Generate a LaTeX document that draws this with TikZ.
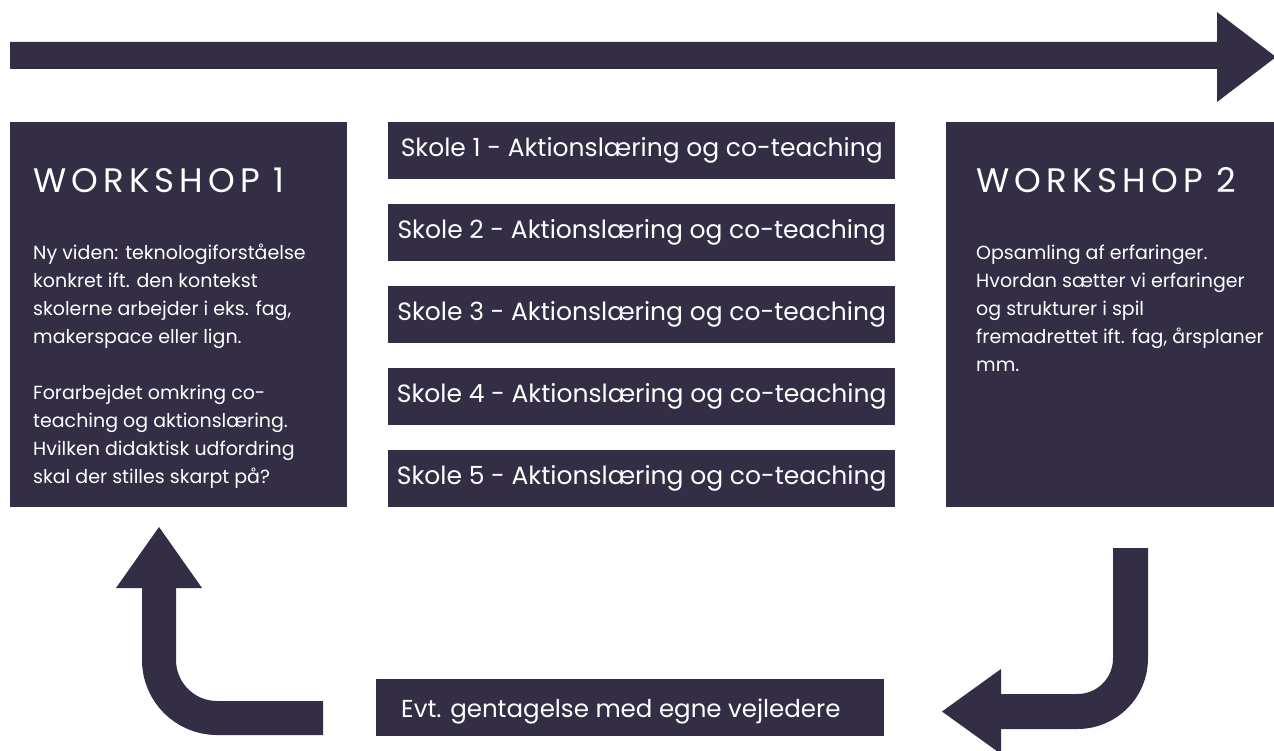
\documentclass[tikz,border=0pt]{standalone}
\usepackage{fontspec}
\setmainfont{Poppins}
\newfontfamily\titlefont[LetterSpace=15]{Poppins}
\definecolor{navy}{RGB}{51,45,70}
\begin{document}
\begin{tikzpicture}[x=1pt,y=-1pt,
  box/.style={fill=navy, draw=none, inner sep=0pt, anchor=north west},
  lbl/.style={text=white, inner sep=0pt},
  schoolbox/.style={box, minimum width=507pt, minimum height=57pt},
  arrowshaft/.style={draw=navy, line cap=butt},
]
\useasboundingbox (0,0) rectangle (1274,751);
% top arrow
\fill[navy] (10,42) -- (1217,42) -- (1217,12) -- (1276,57) -- (1217,102) -- (1217,69) -- (10,69) -- cycle;

% workshop 1
\node[box, minimum width=337pt, minimum height=385pt] (w1) at (10,122) {};
\node[lbl, anchor=base west] (w1t) at (33,193) {\fontsize{34}{34}\titlefont WORKSHOP 1};
\node[lbl, anchor=base west] (w1a) at (33,260) {\fontsize{19}{28}\selectfont\parbox[t]{310pt}{\raggedright
Ny viden: teknologiforståelse\\
konkret ift. den kontekst\\
skolerne arbejder i eks. fag,\\
makerspace eller lign.\\[28pt]
Forarbejdet omkring co-\\
teaching og aktionslæring.\\
Hvilken didaktisk udfordring\\
skal der stilles skarpt på?}};

% workshop 2
\node[box, minimum width=330pt, minimum height=385pt] (w2) at (946,122) {};
\node[lbl, anchor=base west] (w2t) at (976,193) {\fontsize{34}{34}\titlefont WORKSHOP 2};
\node[lbl, anchor=base west] (w2a) at (976,260) {\fontsize{19}{28}\selectfont\parbox[t]{300pt}{\raggedright
Opsamling af erfaringer.\\
Hvordan sætter vi erfaringer\\
og strukturer i spil\\
fremadrettet ift. fag, årsplaner\\
mm.}};

% schools
\foreach \i/\y in {1/122,2/204,3/286,4/368,5/450}{
  \node[schoolbox] (s\i) at (388,\y) {};
  \node[lbl] (s\i t) at (s\i.center) {\fontsize{25}{25}\selectfont Skole \i\ - Aktionslæring og co-teaching};
}

% bottom box
\node[box, minimum width=508pt, minimum height=57pt] (evt) at (376,679) {};
\node[lbl, anchor=base west] (evtt) at (401,717) {\fontsize{24.5}{24.5}\selectfont Evt. gentagelse med egne vejledere};

% left curved arrow (back to workshop 1)
\coordinate (la0) at (323,718);
\coordinate (la1) at (159,586);
\draw[arrowshaft, line width=34pt, rounded corners=58pt] (la0) -| (la1);
\fill[navy] (116,588) -- (159,527) -- (202,588) -- cycle;

% right curved arrow (from workshop 2)
\coordinate (ra0) at (1130.5,548);
\coordinate (ra1) at (999,711.5);
\draw[arrowshaft, line width=35pt, rounded corners=53pt] (ra0) |- (ra1);
\fill[navy] (1001,669) -- (942,711.5) -- (1001,754) -- cycle;
\end{tikzpicture}
\end{document}
